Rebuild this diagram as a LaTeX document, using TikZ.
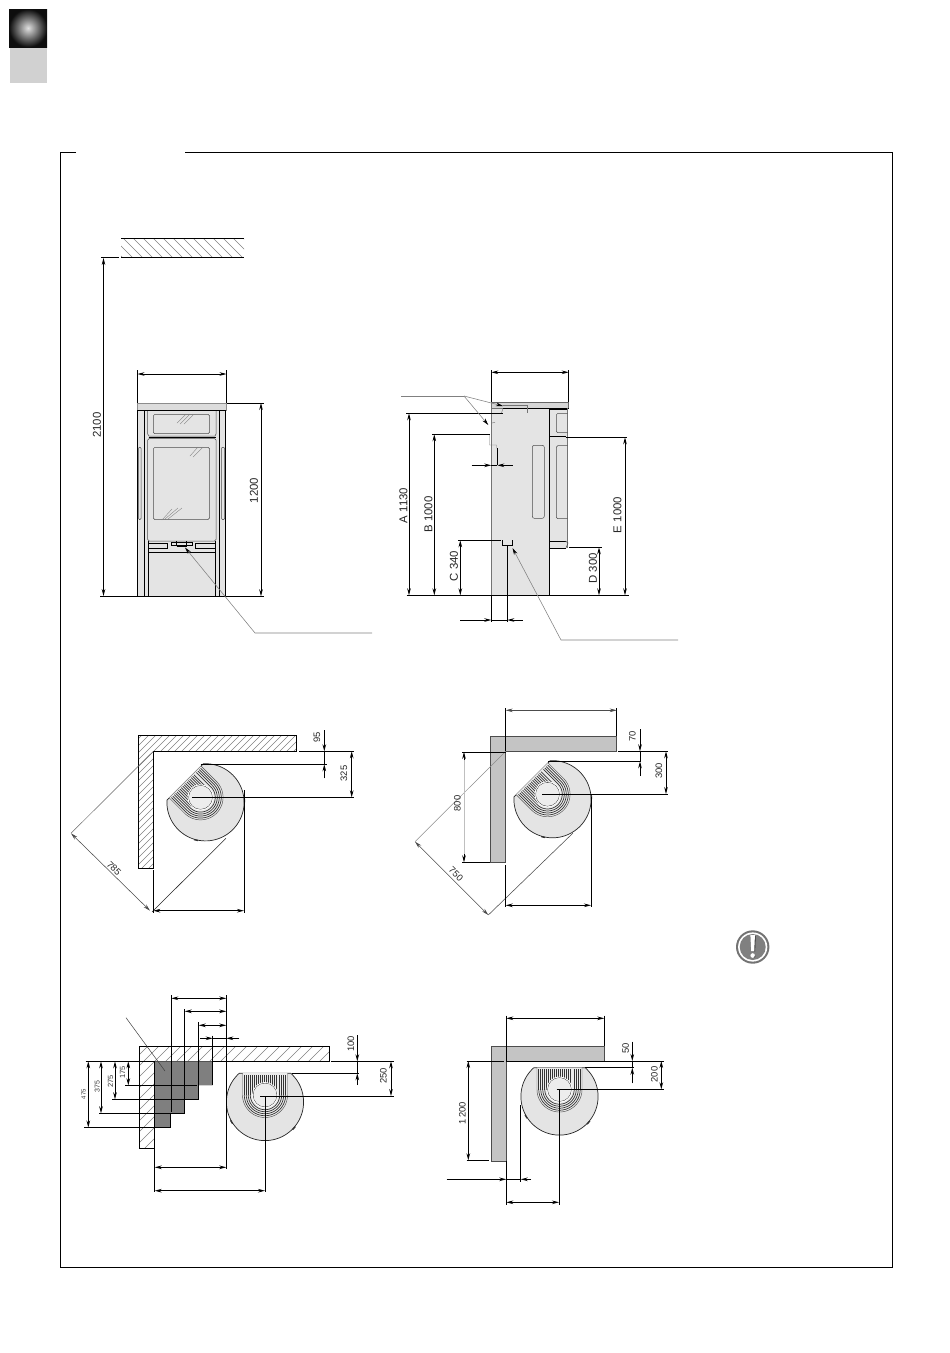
\documentclass[tikz,border=0pt]{standalone}
\usepackage{fontspec}
\setmainfont{Liberation Sans}
\usetikzlibrary{arrows.meta}
\definecolor{bodyg}{HTML}{E4E4E4}
\definecolor{wallg}{HTML}{C4C4C4}
\definecolor{stepg}{HTML}{7F7F7F}
\tikzset{
  ln/.style={line width=0.85pt,black},
  thinln/.style={line width=0.5pt,black!70},
  leader/.style={line width=0.55pt,black!50},
  tip/.tip={Stealth[length=7pt,width=3.6pt]},
  ltip/.tip={Stealth[length=7pt,width=3.6pt,color=black]},
  dimarr/.style={ln,tip-tip},
  onearr/.style={ln,-tip},
  hatchln/.style={line width=0.45pt,black!50},
  lab/.style={font=\fontsize{11.4pt}{12pt}\selectfont,inner sep=0pt,text=black!85},
  labs/.style={font=\fontsize{9.4pt}{10pt}\selectfont,inner sep=0pt,text=black!85},
  labt/.style={inner sep=0pt,text=black!80}
}
\newcommand{\stoveplan}[3]{%
\begin{scope}[shift={(#1,#2)},rotate=#3]
  \fill[bodyg] plot[domain=-48.3:228.3,samples=70] ({38.6*cos(\x)},{38.6*sin(\x)}) -- cycle;
  \draw[line width=0.7pt,black!85] plot[domain=-48.3:228.3,samples=70] ({38.6*cos(\x)},{38.6*sin(\x)}) -- cycle;
  \draw[line width=1.3pt,black!80] plot[domain=146:152,samples=5] ({39*cos(\x)},{39*sin(\x)});
  \draw[line width=1.3pt,black!80] plot[domain=39:45,samples=5] ({39*cos(\x)},{39*sin(\x)});
  \fill[white!92!black] (-22.5,-28.8) -- plot[domain=180:0,samples=40] ({22.5*cos(\x)},{-7+22.5*sin(\x)}) -- (22.5,-28.8) -- cycle;
  \draw[line width=0.45pt,black!70] (-22.5,-28.8) -- plot[domain=180:0,samples=40] ({22.5*cos(\x)},{-7+22.5*sin(\x)}) -- (22.5,-28.8);
  \foreach \r in {14.7,16.7,18.7,20.7}{
    \draw[line width=0.7pt,black!80] plot[domain=180:0,samples=30] ({\r*cos(\x)},{-7+\r*sin(\x)});
    \draw[line width=0.7pt,black!80] (-\r,-7) -- (-\r,-27.5);
    \draw[line width=0.7pt,black!80] (\r,-7) -- (\r,-27.5);
  }
  \foreach \v in {-12.7,-10.7,...,12.8}{\draw[line width=0.7pt,black!80] (\v,-7) -- (\v,-27.5);}
  \fill[white] (0,-7) circle[radius=13];
  \draw[line width=0.5pt,black!80] (0,-7) circle[radius=11.8];
  \fill[black!7] (0,-7) circle[radius=11.5];
\end{scope}}
\begin{document}
\begin{tikzpicture}[x=1pt,y=-1pt]
\useasboundingbox (0,0) rectangle (950,1353);
% tabs
\shade[inner color=black!12,outer color=black!95] (9,9) rectangle (47,47);
\fill[black!18] (9.5,48) rectangle (46.5,83);
% frame
\draw[ln] (76,152.5) -- (60.5,152.5) -- (60.5,1267.5) -- (892.5,1267.5) -- (892.5,152.5) -- (185,152.5);
% ceiling
\begin{scope}
  \clip (121,238.5) rectangle (244,257.5);
  \foreach \c in {-145,-135,...,5}{\draw[hatchln] (\c,0) -- ++(1400,1400);}
\end{scope}
\draw[ln] (121,238.5) -- (244,238.5) (121,257.5) -- (244,257.5);
\draw[ln] (101,257.5) -- (119,257.5);
\draw[dimarr] (103.5,258) -- (103.5,596);
\node[lab,rotate=90] (t2100) at (97,425) {2100};
% ---------- front view
\fill[bodyg] (137.5,410) rectangle (225.5,596.3);
\fill[wallg!60!white,draw=black!45,line width=0.4pt] (137,403) rectangle (226.5,410);
\draw[ln] (137.5,410) -- (225.5,410);
\draw[ln] (137.5,410) -- (137.5,596.3) (144.3,410) -- (144.3,596.3) (148.3,541) -- (148.3,596.3) (215.5,541) -- (215.5,596.3) (219.3,410) -- (219.3,596.3) (225.5,410) -- (225.5,596.3);
\draw[thinln] (147.7,411) -- (147.7,434) -- (149,436) -- (215,436) -- (216,434) -- (216,411);
\draw[thinln,rounded corners=1.5pt] (147.7,438.5) -- (216,438.5) -- (216,541) -- (147.7,541) -- cycle;
\draw[ln] (148.5,437.7) -- (215.5,437.7);
\draw[thinln,rounded corners=1.5pt] (153.3,414.3) rectangle (209.5,433.7);
\draw[thinln,rounded corners=1.5pt] (153.3,447.3) rectangle (209.5,519.5);
\draw[thinln,rounded corners=1pt] (138.5,447.3) rectangle (141,519.5);
\draw[thinln,rounded corners=1pt] (221.5,447.3) rectangle (224.7,519.5);
\foreach \a/\b/\c/\d in {177/423/186/414,180/424/190/414,184/424/193/415,190/456/198/447,193/457/203/447,162/520/172/509,165/519/178/508,168/519/182/508}{\draw[line width=0.35pt,black!50] (\a,\b) -- (\c,\d);}
\draw[ln,fill=bodyg] (148.3,543) rectangle (167.7,548.3);
\draw[ln,fill=bodyg] (195.3,543) rectangle (215.5,548.3);
\draw[ln] (148.3,552.7) -- (215.5,552.7);
\draw[line width=0.6pt,black,fill=bodyg] (171.3,542) rectangle (192.7,545.3);
\draw[line width=0.6pt,black] (176.5,541) -- (176.5,546) (186.5,541) -- (186.5,546);
\draw[ln] (176.5,546.7) -- (186.5,546.7);
% front dims
\draw[ln] (137.5,370) -- (137.5,403) (226.5,370) -- (226.5,403);
\draw[dimarr] (137.5,374) -- (226.5,374);
\draw[ln] (227,403) -- (263.5,403);
\draw[dimarr] (261,403) -- (261,596.3);
\draw[ln] (100,596.3) -- (263.5,596.3);
\node[lab,rotate=90] (t1200a) at (254,490.5) {1200};
\coordinate (la) at (255,633);
\draw[leader,ltip-] (185,547.5) -- (la) -- (372,633);
% ---------- side view
\fill[bodyg] (491.3,408) rectangle (549.3,595.3);
\fill[bodyg] (549.3,408) rectangle (567.7,548.3);
\fill[wallg!70!white] (491.3,402.3) rectangle (568.7,408.3);
\draw[line width=0.45pt,black!60] (491.3,402.3) -- (568.7,402.3) -- (568.7,408.3);
\draw[line width=0.45pt,black!55] (491.3,408.3) -- (503,408.3);
\draw[ln] (503,408.3) -- (568.7,408.3);
\draw[line width=0.5pt,black!55] (491.3,402.3) -- (491.3,595.3) (567.7,408.3) -- (567.7,548);
\draw[line width=1.1pt,black] (549.3,408.3) -- (549.3,595.3);
\draw[line width=1.3pt,black] (549.3,409) -- (567,409) (549.3,436.7) -- (566,436.7) (549.3,541.7) -- (566,541.7);
\draw[ln] (549.3,548.3) -- (566,548.3);
\draw[thinln] (565.5,541) -- (568,543) -- (566,548);
\draw[thinln,rounded corners=1.5pt] (567.7,413.3) -- (556.3,413.3) -- (556.3,432.7) -- (567.7,432.7);
\draw[thinln,rounded corners=1.5pt] (567.7,445.7) -- (556.3,445.7) -- (556.3,518.7) -- (567.7,518.7);
\draw[thinln,rounded corners=2pt] (532.3,445.3) rectangle (544.3,518.3);
\draw[line width=0.4pt,black!55] (503,405.3) -- (527,405.3) -- (527,413);
\draw[line width=0.4pt,black!55] (503,408.5) -- (501.5,413);
\draw[line width=0.45pt,black!55] (491.3,423) -- (495,422.5) (489.5,434.3) -- (489.5,445) -- (496.5,445) -- (496.5,448.3);
% side dims
\draw[ln] (491.3,370) -- (491.3,402.3) (568.7,370) -- (568.7,402.3);
\draw[dimarr] (491.3,372.3) -- (568.7,372.3);
\draw[ln] (406,413.3) -- (503,413.3);
\draw[dimarr] (409,413.3) -- (409,595.3);
\draw[ln] (432,434.3) -- (490,434.3);
\draw[dimarr] (434.3,434.3) -- (434.3,595.3);
\draw[ln] (458,540.3) -- (500.7,540.3);
\draw[dimarr] (460.3,540.3) -- (460.3,595.3);
\draw[ln] (502,540.3) -- (502,545.3) -- (512.7,545.3) -- (512.7,540.3);
\draw[ln] (507.3,545.3) -- (507.3,622);
\draw[ln] (491.3,595.3) -- (491.3,622);
\draw[onearr] (460,620) -- (491.3,620);
\draw[onearr] (522.7,620) -- (507.3,620);
\draw[ln] (491.3,620) -- (507.3,620);
\draw[ln] (497.3,448.3) -- (497.3,465.3);
\draw[onearr] (471.7,465.3) -- (491.3,465.3);
\draw[onearr] (512.7,465.3) -- (497.3,465.3);
\draw[ln] (491.3,465.3) -- (497.3,465.3);
\draw[ln] (565.7,437.3) -- (627,437.3);
\draw[dimarr] (625,437.3) -- (625,595.3);
\draw[ln] (569.3,547.3) -- (602,547.3);
\draw[dimarr] (599,547.3) -- (599,595.3);
\draw[ln] (406.7,595.3) -- (629,595.3);
\node[lab,rotate=90] (ta) at (403.5,505.5) {A 1130};
\node[lab,rotate=90] (tb) at (428.5,514.5) {B 1000};
\node[lab,rotate=90] (tc) at (454,566) {C 340};
\node[lab,rotate=90] (td) at (593,568.5) {D 300};
\node[lab,rotate=90] (te) at (617.5,515) {E 1000};
% side leaders
\coordinate (lb) at (464,396);
\draw[leader] (401,396) -- (lb);
\draw[leader,ltip-] (503,406) -- (lb);
\draw[leader,ltip-] (488.3,425) -- (lb);
\coordinate (lc) at (561,640);
\draw[leader,ltip-] (512.5,548) -- (lc) -- (678,640);
% ---------- plan 1
\begin{scope}
  \clip (138.3,735.3) -- (296.7,735.3) -- (296.7,751.3) -- (153.3,751.3) -- (153.3,868.3) -- (138.3,868.3) -- cycle;
  \foreach \c in {870,877,...,1050}{\draw[hatchln] (\c,0) -- ++(-1400,1400);}
\end{scope}
\draw[ln] (138.3,735.3) -- (296.7,735.3) -- (296.7,751.3) -- (153.3,751.3) -- (153.3,868.3) -- (138.3,868.3) -- cycle;
\stoveplan{205.5}{802.3}{45}
\draw[line width=0.5pt,black!60] (153.3,751.3) -- (71,833.3);
\draw[line width=0.55pt,black!85] (152,912) -- (226,838.3);
\draw[tip-tip,line width=0.55pt,black!70] (71,833.3) -- (150,910.7);
\draw[ln] (153.3,870) -- (153.3,912.5) (244,790) -- (244,912.5);
\draw[dimarr] (153.3,910.7) -- (244,910.7);
\draw[ln] (299.3,751.3) -- (354,751.3) (200.7,764.3) -- (327,764.3) (192.3,797.3) -- (354,797.3);
\draw[onearr] (324.3,730) -- (324.3,751.3);
\draw[onearr] (324.3,778.3) -- (324.3,764.3);
\draw[ln] (324.3,751.3) -- (324.3,764.3);
\draw[dimarr] (351.7,751.3) -- (351.7,797.3);
\node[labs,rotate=90] (t95) at (317,737.5) {95};
\node[labs,rotate=90] (t325) at (344,773.5) {325};
\node[labs,rotate=-45] (t785) at (114,868.5) {785};
% ---------- plan 2
\fill[wallg] (490.3,736.3) -- (616.7,736.3) -- (616.7,751.3) -- (505.7,751.3) -- (505.7,862.3) -- (490.3,862.3) -- cycle;
\draw[line width=0.5pt,black!70] (490.3,736.3) -- (616.7,736.3) -- (616.7,751.3) -- (505.7,751.3) -- (505.7,862.3) -- (490.3,862.3) -- cycle;
\stoveplan{552.5}{799.2}{45}
\draw[line width=0.5pt,black!45] (505.7,751.3) -- (415,841.7);
\draw[line width=0.55pt,black!70] (488.3,915) -- (573,833);
\draw[tip-tip,line width=0.55pt,black!70] (415,841.7) -- (488.3,915);
\draw[ln] (505.7,708) -- (505.7,751.3) (616.7,708) -- (616.7,736.3);
\draw[tip-tip,line width=0.55pt,black!70] (505.7,710.3) -- (616.7,710.3);
\draw[ln] (618,751.3) -- (667.7,751.3) (548.3,761.3) -- (641,761.3) (542.3,794) -- (667.7,794);
\draw[onearr] (640,729) -- (640,751.3);
\draw[onearr] (640,776) -- (640,761.3);
\draw[ln] (640,751.3) -- (640,761.3);
\draw[dimarr] (666,751.3) -- (666,794);
\draw[ln] (462.3,752) -- (505.7,752) (462.3,862.3) -- (490,862.3);
\draw[line width=0.7pt,black!25] (464,758) -- (464,856);
\draw[onearr,line width=0.7pt,black] (464,760) -- (464,752);
\draw[onearr,line width=0.7pt,black] (464,854) -- (464,862.3);
\draw[ln] (505.7,865) -- (505.7,907) (591,796.7) -- (591,907);
\draw[dimarr] (505.7,905.3) -- (591,905.3);
\node[labs,rotate=90] (t70) at (632.5,736.5) {70};
\node[labs,rotate=90] (t300) at (659,771) {300};
\node[labs,rotate=90] (t800) at (457.5,803.5) {800};
\node[labs,rotate=-45] (t750) at (456,874) {750};
% ---------- warning icon
\fill[black!55] (752.7,947) circle[radius=16.7];
\fill[white] (752.7,947) circle[radius=14.6];
\fill[black!50] (752.7,947) circle[radius=13];
\fill[white] (750.4,935) -- (755,935) -- (754.2,951) -- (751.2,951) -- cycle;
\fill[white] (752.7,955.5) circle[radius=2.3];
\draw[line width=0.6pt,black!80] (755.4,936) -- (754.8,951.5) (755.2,955.5) -- (754.6,957.5);
% ---------- plan 3
\begin{scope}
  \clip (139.3,1046.3) -- (329.3,1046.3) -- (329.3,1061.3) -- (154.7,1061.3) -- (154.7,1148.3) -- (139.3,1148.3) -- cycle;
  \foreach \c in {1183,1194,...,1395}{\draw[hatchln] (\c,0) -- ++(-1400,1400);}
\end{scope}
\draw[ln] (139.3,1046.3) -- (329.3,1046.3) -- (329.3,1061.3) -- (154.7,1061.3) -- (154.7,1148.3) -- (139.3,1148.3) -- cycle;
\fill[stepg] (154.7,1061.3) -- (212.7,1061.3) -- (212.7,1085.3) -- (198.7,1085.3) -- (198.7,1099.3) -- (184.7,1099.3) -- (184.7,1113.3) -- (170.7,1113.3) -- (170.7,1127.7) -- (154.7,1127.7) -- cycle;
\draw[ln] (154.7,1061.3) -- (154.7,1127.7) -- (170.7,1127.7) -- (170.7,1113.3);
\stoveplan{265}{1102}{0}
\draw[ln] (171.3,995) -- (171.3,1112) (184.7,1009) -- (184.7,1113.3) (198.7,1022.3) -- (198.7,1099.3) (212.7,1035.7) -- (212.7,1085.3) (226.3,995) -- (226.3,1169.3);
\draw[dimarr] (171.3,998.3) -- (226.3,998.3);
\draw[dimarr] (184.7,1011.3) -- (226.3,1011.3);
\draw[dimarr] (198.7,1025.3) -- (226.3,1025.3);
\draw[onearr] (200,1038.3) -- (212.7,1038.3);
\draw[onearr] (239.3,1038.3) -- (226.3,1038.3);
\draw[ln] (212.7,1038.3) -- (226.3,1038.3);
\draw[ln] (85.7,1061.3) -- (154.7,1061.3);
\draw[ln] (125,1085.3) -- (196.7,1085.3) (112.3,1099.3) -- (198.7,1099.3) (99,1113.3) -- (184.7,1113.3) (84.3,1127.5) -- (170.7,1127.5);
\draw[dimarr] (128.3,1061.3) -- (128.3,1085.3);
\draw[dimarr] (115,1061.3) -- (115,1099.3);
\draw[dimarr] (101,1061.3) -- (101,1113.3);
\draw[dimarr] (88.3,1061.3) -- (88.3,1127.5);
\node[labt,rotate=90,font=\fontsize{7.5pt}{8pt}\selectfont] (t175) at (122.5,1072.5) {175};
\node[labt,rotate=90,font=\fontsize{7.5pt}{8pt}\selectfont] (t275) at (110.5,1081.5) {275};
\node[labt,rotate=90,font=\fontsize{7pt}{8pt}\selectfont] (t375) at (97.3,1086.7) {375};
\node[labt,rotate=90,font=\fontsize{6pt}{7pt}\selectfont] (t475) at (83.5,1094) {475};
\draw[line width=0.5pt,black!75] (126,1017.7) -- (165,1071);
\draw[ln] (331,1061.3) -- (394,1061.3) (291.7,1073.3) -- (358.7,1073.3) (260,1096) -- (394,1096);
\draw[onearr] (357.3,1035) -- (357.3,1061.3);
\draw[onearr] (357.3,1085) -- (357.3,1073.3);
\draw[ln] (357.3,1061.3) -- (357.3,1073.3);
\draw[dimarr] (391,1061.3) -- (391,1096);
\node[labs,rotate=90] (t100) at (351,1044) {100};
\node[labs,rotate=90] (t250) at (383.5,1076) {250};
\draw[ln] (154.7,1148.3) -- (154.7,1192.3) (265,1096) -- (265,1192.3);
\draw[dimarr] (154.7,1167.3) -- (226.3,1167.3);
\draw[dimarr] (154.7,1190.7) -- (265,1190.7);
% ---------- plan 4
\fill[wallg] (491,1046.3) -- (604.3,1046.3) -- (604.3,1061) -- (506.3,1061) -- (506.3,1161) -- (491,1161) -- cycle;
\draw[line width=0.5pt,black!70] (491,1046.3) -- (604.3,1046.3) -- (604.3,1061) -- (506.3,1061) -- (506.3,1161) -- (491,1161) -- cycle;
\stoveplan{559.5}{1096.5}{0}
\draw[ln] (506.3,1015.7) -- (506.3,1061) (604.3,1015.7) -- (604.3,1046.3);
\draw[dimarr] (506.3,1018.3) -- (604.3,1018.3);
\draw[ln] (506.3,1061) -- (664,1061) (585,1067.7) -- (633.7,1067.7) (556.7,1089.3) -- (664,1089.3);
\draw[onearr] (632.3,1041.7) -- (632.3,1061);
\draw[onearr] (632.3,1083.3) -- (632.3,1067.7);
\draw[ln] (632.3,1061) -- (632.3,1067.7);
\draw[dimarr] (661.3,1061) -- (661.3,1089.3);
\node[labs,rotate=90] (t50) at (625.7,1048.5) {50};
\node[labs,rotate=90] (t200) at (654.3,1074.5) {200};
\draw[ln] (466.7,1061) -- (504,1061) (466.7,1160.3) -- (489,1160.3);
\draw[dimarr] (468.3,1061) -- (468.3,1160.3);
\node[labs,rotate=90] (t1200b) at (462.3,1113.5) {1\,200};
\draw[ln] (506.3,1161) -- (506.3,1205) (520.7,1105) -- (520.7,1181.7) (559,1089.3) -- (559,1204.5);
\draw[onearr] (446.7,1179.3) -- (506.3,1179.3);
\draw[onearr] (531,1179.3) -- (520.7,1179.3);
\draw[ln] (506.3,1179.3) -- (520.7,1179.3);
\draw[dimarr] (506.3,1202.3) -- (559,1202.3);
\end{tikzpicture}
\end{document}
